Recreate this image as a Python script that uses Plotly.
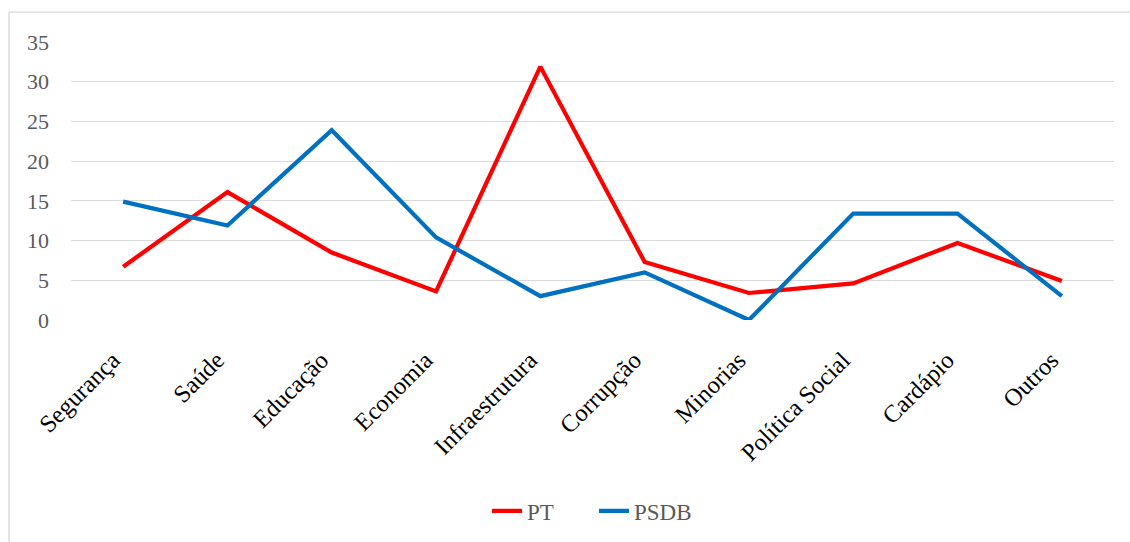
import plotly.graph_objects as go

categories = ["Segurança", "Saúde", "Educação", "Economia", "Infraestrutura",
              "Corrupção", "Minorias", "Política Social", "Cardápio", "Outros"]
pt_values = [6.7, 16.1, 8.5, 3.6, 31.9, 7.3, 3.4, 4.6, 9.7, 4.9]
psdb_values = [14.9, 11.9, 23.9, 10.4, 3.0, 6.0, 0.0, 13.4, 13.4, 3.0]
y_ticks = [0, 5, 10, 15, 20, 25, 30, 35]

FONT = "Liberation Serif"
LABEL_SHIFT = 0.1  # category units: nudges the rotated labels left

fig = go.Figure()
fig.add_trace(go.Scatter(x=categories, y=pt_values, mode="lines", name="PT",
                         line=dict(color="#FF0000", width=4.2)))
fig.add_trace(go.Scatter(x=categories, y=psdb_values, mode="lines", name="PSDB",
                         line=dict(color="#0070C0", width=4.2)))
# invisible carrier trace for the label axis
fig.add_trace(go.Scatter(x=categories, y=pt_values, xaxis="x2", mode="lines",
                         line=dict(color="rgba(0,0,0,0)", width=0),
                         showlegend=False, hoverinfo="skip"))

fig.update_layout(
    width=1130, height=542,
    margin=dict(l=71, r=16, t=42, b=221),
    paper_bgcolor="white", plot_bgcolor="white",
    font=dict(family=FONT, size=22, color="#595959"),
    showlegend=True,
    legend=dict(orientation="h", x=(487 - 71) / 1043, xanchor="left",
                y=(321 - 511) / 279, yanchor="middle",
                entrywidth=62, entrywidthmode="pixels",
                font=dict(family=FONT, size=23, color="#595959"),
                traceorder="normal"),
    xaxis=dict(type="category", range=[-0.5, 9.5], showgrid=False, zeroline=False,
               showline=False, ticks="", showticklabels=False),
    xaxis2=dict(type="category", overlaying="x", anchor="y", side="bottom",
                range=[-0.5 + LABEL_SHIFT, 9.5 + LABEL_SHIFT], showgrid=False,
                zeroline=False, showline=False, tickangle=-45, ticks="",
                ticklabelstandoff=20,
                tickfont=dict(family=FONT, size=24.5, color="#000000")),
    yaxis=dict(range=[0, 35], tickvals=y_ticks, showgrid=True, gridcolor="#D9D9D9",
               gridwidth=1.3, zeroline=False, showline=False, ticks="",
               ticklabelstandoff=21,
               tickfont=dict(family=FONT, size=22, color="#595959")),
    shapes=[dict(type="rect", xref="paper", yref="paper",
                 x0=(9 - 71) / 1043, x1=1.2, y0=-1.5, y1=(321 - 12) / 279,
                 line=dict(color="#D9D9D9", width=1.3), fillcolor="rgba(0,0,0,0)",
                 layer="below")],
)

fig.write_html("out.html")
